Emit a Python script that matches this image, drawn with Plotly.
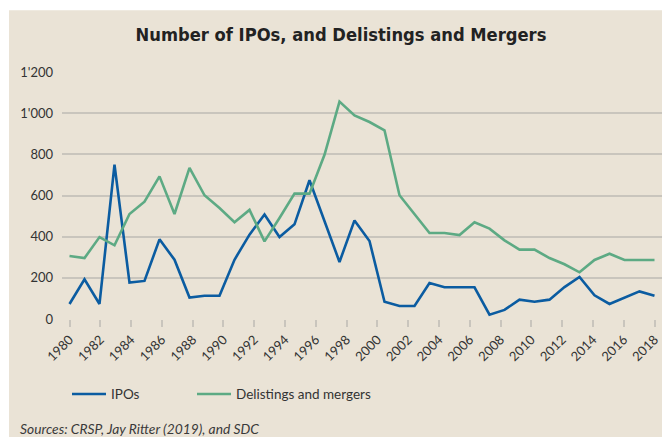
import plotly.graph_objects as go

years = list(range(1980, 2020))
ipos = [73, 193, 73, 750, 177, 185, 387, 288, 104, 113,
        113, 288, 410, 508, 398, 460, 674, 472, 277, 479,
        379, 84, 63, 63, 175, 154, 154, 154, 21, 44,
        94, 84, 94, 155, 204, 115, 73, 104, 134, 113]
delistings = [306, 296, 398, 358, 510, 570, 693, 510, 734, 601,
              539, 470, 530, 377, 491, 609, 609, 798, 1056, 989,
              957, 917, 601, 509, 418, 418, 408, 470, 439, 382,
              337, 337, 296, 266, 227, 287, 317, 287, 287, 287]
x_tick_labels = [str(y) for y in range(1980, 2019, 2)]
y_tick_vals = [0, 200, 400, 600, 800, 1000, 1200]
y_tick_labels = ["0", "200", "400", "600", "800", "1'000", "1'200"]

BG = "#EAE3D6"
GRID = "#C9C5BD"
BLUE = "#0B5CA1"
GREEN = "#5DAA84"
TXT = "#333333"
FONT = "Lato"

n = len(x_tick_labels)
tick_pos = [years[0] + i * (years[-1] - years[0]) / (n - 1) for i in range(n)]

fig = go.Figure()
fig.add_trace(go.Scatter(x=years, y=ipos, mode="lines", name="IPOs",
                         line=dict(color=BLUE, width=2.6), legend="legend"))
fig.add_trace(go.Scatter(x=years, y=delistings, mode="lines",
                         name="Delistings and mergers",
                         line=dict(color=GREEN, width=2.6), legend="legend2"))

L, T, W, H = 62, 71.7, 600, 247
def px(x):
    return (x - L) / W
def py(y):
    return (T + H - y) / H

leg_common = dict(orientation="h", yanchor="middle", xanchor="left",
                  bgcolor="rgba(0,0,0,0)", itemwidth=34,
                  font=dict(family=FONT, size=13.5, color=TXT))

fig.update_layout(
    width=662, height=437,
    margin=dict(l=L, r=662 - L - W, t=T, b=437 - T - H, pad=0),
    paper_bgcolor=BG, plot_bgcolor=BG,
    font=dict(family=FONT, size=13, color=TXT),
    title=dict(text="<b>Number of IPOs, and Delistings and Mergers</b>",
               x=341 / 662, xanchor="center", xref="container",
               y=1 - 35 / 437, yanchor="middle", yref="container",
               font=dict(family="DejaVu Sans Condensed, Roboto, sans-serif",
                         size=18.2, color="#222222")),
    xaxis=dict(range=[1979.5, 2019.5], tickmode="array", tickvals=tick_pos,
               ticktext=x_tick_labels, tickangle=-45, ticks="outside",
               ticklen=7, tickwidth=1.5, tickcolor=GRID, showgrid=False,
               zeroline=False, showline=False,
               tickfont=dict(family=FONT, size=13, color=TXT)),
    yaxis=dict(range=[0, 1200], tickmode="array", tickvals=y_tick_vals,
               ticktext=y_tick_labels, showgrid=True, gridcolor=GRID,
               gridwidth=1.5, zeroline=False, showline=False,
               ticks="", ticklabelstandoff=8,
               tickfont=dict(family=FONT, size=13, color=TXT)),
    showlegend=True,
    legend=dict(x=px(67), y=py(394), **leg_common),
    legend2=dict(x=px(192), y=py(394), **leg_common),
    shapes=[
        dict(type="rect", xref="paper", yref="paper", x0=px(-5), x1=px(9),
             y0=py(440), y1=py(-5), fillcolor="white", line_width=0, layer="below"),
        dict(type="rect", xref="paper", yref="paper", x0=px(-5), x1=px(667),
             y0=py(10), y1=py(-5), fillcolor="white", line_width=0, layer="below"),
    ],
    annotations=[
        dict(text="<i>Sources: CRSP, Jay Ritter (2019), and SDC</i>",
             xref="paper", yref="paper", x=px(18), y=py(428),
             xanchor="left", yanchor="middle", showarrow=False,
             font=dict(family=FONT, size=13.8, color="#3a3a3a")),
    ],
)

fig.write_html("out.html", config={"displayModeBar": False},
               post_script="document.body.style.margin='0';document.body.style.overflow='hidden';")
